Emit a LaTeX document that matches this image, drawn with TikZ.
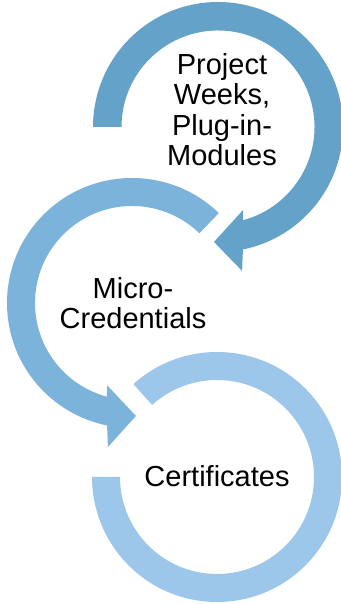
\documentclass[tikz,border=0pt]{standalone}
\usepackage{fontspec}
\setmainfont{Liberation Sans}
\usetikzlibrary{calc}
\definecolor{ringA}{RGB}{101,162,201}
\definecolor{ringB}{RGB}{123,179,218}
\definecolor{ringC}{RGB}{156,198,234}
\newcommand{\ringfont}{\fontsize{29}{30.5}\selectfont}

\begin{document}
\begin{tikzpicture}[x=1pt, y=1pt, ringtext/.style={font=\ringfont, align=center, inner sep=0pt}]
            \useasboundingbox (0,0) rectangle (340,604);

            % Centres of the three rings
            \coordinate (c1) at (218,477);
            \coordinate (c2) at (132,301);
            \coordinate (c3) at (217,127);

            % Draw the bottom ring, no head
            \fill[ringC] ($(c3)+(132:125pt)$) arc[start angle=132, end angle=-180, radius=125pt]
                -- ($(c3)+(180:97pt)$) arc[start angle=-180, end angle=132, radius=97pt] -- cycle;

            % Draw the top ring with its head
            \fill[ringA] ($(c1)+(180:125pt)$) arc[start angle=180, end angle=-78.5, radius=125pt]
                -- ($(c1)+(-80.5:146pt)$) -- ($(c1)+(-92:115pt)$) -- ($(c1)+(-73.2:86.7pt)$)
                -- ($(c1)+(-75:96.5pt)$) arc[start angle=-75, end angle=180, radius=96.5pt] -- cycle;

            % Draw the middle ring with its head
            \fill[ringB] ($(c2)+(46:125pt)$) arc[start angle=46, end angle=258.5, radius=125pt]
                -- ($(c2)+(260.5:146pt)$) -- ($(c2)+(272:113pt)$) -- ($(c2)+(253.2:86pt)$)
                -- ($(c2)+(255:97pt)$) arc[start angle=255, end angle=46, radius=97pt] -- cycle;

            % Labels
            \node[ringtext, anchor=north] (weeks) at (222,551) {Project\\Weeks,\\Plug-in-\\Modules};
            \node[ringtext, anchor=north] (micro) at (133,327) {Micro-\\Credentials};
            \node[ringtext, anchor=base] (cert) at (217,117) {Certificates};

        \end{tikzpicture}
\end{document}
